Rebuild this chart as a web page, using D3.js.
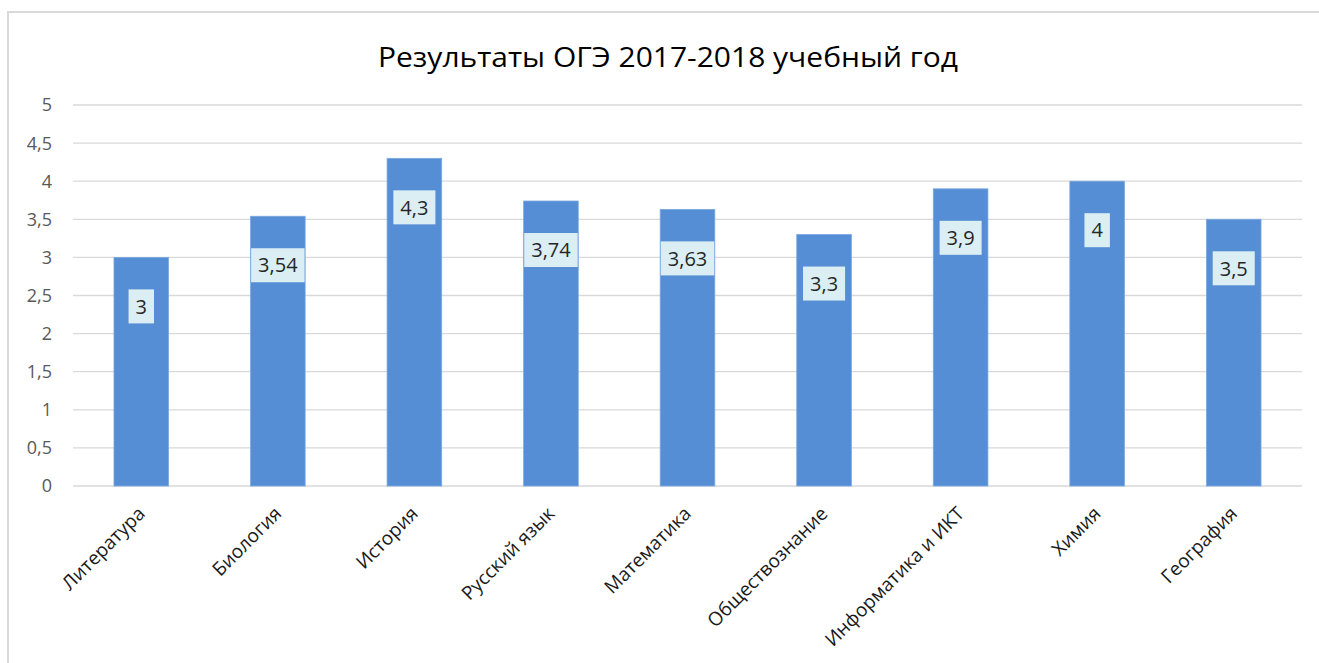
<!DOCTYPE html>
<html>
<head>
    <meta charset="utf-8">
    <title>Результаты ОГЭ</title>
    <script src="https://d3js.org/d3.v7.min.js"></script>
    <style>
        body { margin: 0; background: #fff; }
    </style>
</head>
<body>
    <svg width="1319" height="663" id="mainSvg"></svg>
    <script>
        const subjects = ["Литература", "Биология", "История", "Русский язык", "Математика",
            "Обществознание", "Информатика и ИКТ", "Химия", "География"];
        const scores = [3, 3.54, 4.3, 3.74, 3.63, 3.3, 3.9, 4, 3.5];
        const yTicks = [0, 0.5, 1, 1.5, 2, 2.5, 3, 3.5, 4, 4.5, 5];
        const title = "Результаты ОГЭ 2017-2018 учебный год";

        const svg = d3.select("#mainSvg");
        const fmt = v => String(v).replace(".", ",");

        // chart frame (cropped on the right / bottom)
        svg.append("rect")
            .attr("x", 8).attr("y", 12)
            .attr("width", 1400).attr("height", 800)
            .attr("fill", "#fff")
            .attr("stroke", "#d9d9d9")
            .attr("stroke-width", 2);

        svg.append("text")
            .attr("x", 668).attr("y", 67)
            .attr("text-anchor", "middle")
            .attr("font-family", "Open Sans")
            .attr("font-size", 28)
            .attr("textLength", 580)
            .attr("lengthAdjust", "spacingAndGlyphs")
            .attr("fill", "#000")
            .text(title);

        const x = d3.scaleBand()
            .domain(subjects)
            .range([73, 1302])
            .paddingInner(0.6)
            .paddingOuter(0.3);

        const y = d3.scaleLinear()
            .domain([0, 5])
            .range([486, 105]);

        // gridlines
        svg.append("g").selectAll("line").data(yTicks).join("line")
            .attr("x1", 73).attr("x2", 1302)
            .attr("y1", d => y(d)).attr("y2", d => y(d))
            .attr("stroke", "#d9d9d9")
            .attr("stroke-width", 1.3);

        // y axis labels
        svg.append("g").selectAll("text").data(yTicks).join("text")
            .attr("x", 52)
            .attr("y", d => y(d))
            .attr("dy", "0.36em")
            .attr("text-anchor", "end")
            .attr("font-family", "Open Sans")
            .attr("font-size", 18)
            .attr("fill", "#595959")
            .text(fmt);

        // bars
        svg.append("g").selectAll("rect").data(scores).join("rect")
            .attr("x", (d, i) => x(subjects[i]))
            .attr("y", d => y(d))
            .attr("width", x.bandwidth())
            .attr("height", d => y(0) - y(d))
            .attr("fill", "#558ed5")
            .attr("stroke", "#7aa8e0")
            .attr("stroke-width", 0.8);

        // data labels
        const lab = svg.append("g").selectAll("g").data(scores).join("g")
            .attr("transform", (d, i) =>
                `translate(${x(subjects[i]) + x.bandwidth() / 2}, ${y(d) + 49})`);

        const labText = lab.append("text")
            .attr("text-anchor", "middle")
            .attr("dy", "0.36em")
            .attr("font-family", "Open Sans")
            .attr("font-size", 20)
            .attr("fill", "#262626")
            .text(fmt);

        labText.each(function () {
            const w = this.getComputedTextLength();
            d3.select(this.parentNode).insert("rect", "text")
                .attr("x", -w / 2 - 7)
                .attr("y", -17)
                .attr("width", w + 14)
                .attr("height", 34)
                .attr("fill", "#dbeef4");
        });

        // category labels
        svg.append("g").selectAll("text").data(subjects).join("text")
            .attr("transform", d =>
                `translate(${x(d) + x.bandwidth() / 2}, 510) rotate(-45)`)
            .attr("text-anchor", "end")
            .attr("dy", "0.36em")
            .attr("font-family", "Open Sans")
            .attr("font-size", 19)
            .attr("fill", "#1a1a1a")
            .text(d => d);
    </script>
</body>
</html>
